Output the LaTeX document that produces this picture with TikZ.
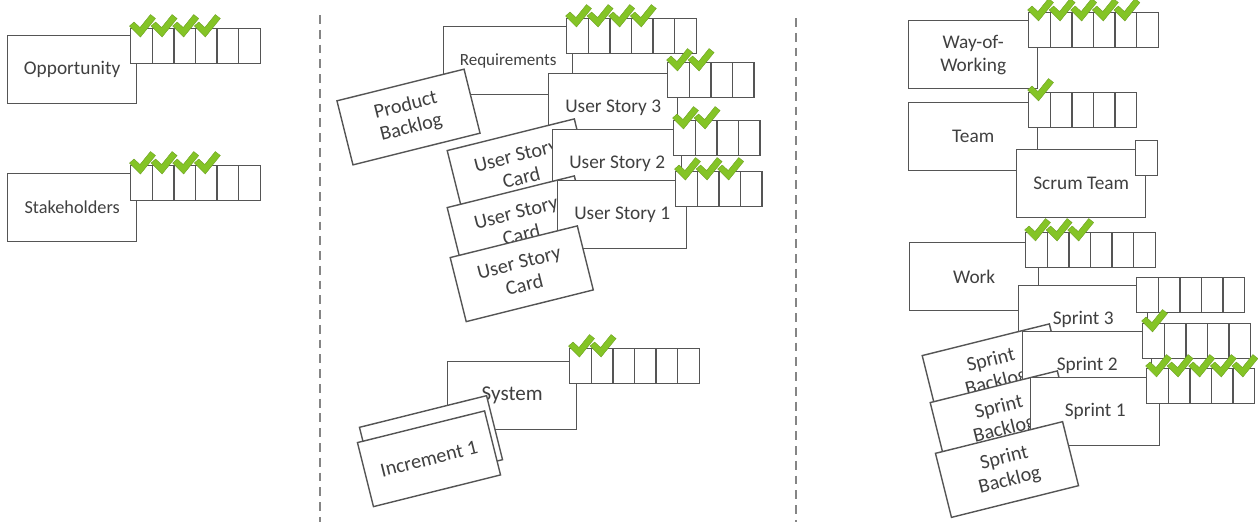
\documentclass[tikz,border=0pt]{standalone}
\usepackage{fontspec}
\setmainfont{Carlito}
\usepackage{xcolor}
\usepackage{tikz}
\definecolor{linegray}{HTML}{555555}
\definecolor{textgray}{HTML}{404040}
\definecolor{sepgray}{HTML}{858585}
\definecolor{tickgreen}{RGB}{132,196,38}

% row of checklist cells: name, x, y, cells, ticked cells
\newcommand{\checkbar}[5]{%
  \foreach \i in {1,...,#4}
    \node[cell] (#1-\i) at ({#2+(\i-1)*21.6},#3) {};
  \ifnum#5>0
    \foreach \j in {1,...,#5}
      \pic at (#1-\j.north west) {tick};
  \fi}

\begin{document}
\begin{tikzpicture}[x=0.02cm, y=-0.02cm,
    box/.style={rectangle, draw=linegray, line width=0.8pt, fill=white,
      minimum width=2.58cm, minimum height=1.36cm, inner sep=0pt,
      align=center, text=textgray, font=\fontsize{11}{13}\selectfont},
    card/.style={box, minimum width=2.62cm, minimum height=1.32cm,
      rotate=14, font=\fontsize{11.5}{13}\selectfont},
    cell/.style={rectangle, draw=linegray, line width=0.8pt, fill=white,
      minimum width=0.432cm, minimum height=0.69cm, inner sep=0pt,
      anchor=north west},
    sep/.style={draw=sepgray, line width=1.1pt, dash pattern=on 5pt off 3.4pt},
    tick/.pic={\fill[tickgreen, draw=tickgreen!80!black, line width=0.2pt]
      (-0.5,-2) -- (4,-6) -- (10,-0.5) -- (20.5,-13.5) -- (25.5,-9.5) -- (10.5,9) -- cycle;}]
  \useasboundingbox (0,0) rectangle (1258,522);

  % separators
  \coordinate (sepa-top) at (320,15);
  \coordinate (sepa-bot) at (320,522);
  \coordinate (sepb-top) at (796,18);
  \coordinate (sepb-bot) at (796,522);
  \draw[sep] (sepa-top) -- (sepa-bot);
  \draw[sep] (sepb-top) -- (sepb-bot);

  % customer
  \node[box, anchor=north west] (opp) at (7,35) {Opportunity};
  \checkbar{oppbar}{130}{28}{6}{4}
  \node[box, anchor=north west, font=\fontsize{10.4}{12}\selectfont] (stk) at (7,173) {Stakeholders};
  \checkbar{stkbar}{130}{165}{6}{4}

  % solution
  \node[box, anchor=north west, font=\fontsize{9.7}{11}\selectfont] (req) at (443,26) {Requirements};
  \checkbar{reqbar}{566}{18}{6}{4}
  \node[card] (pb) at (408.5,117) {Product\\Backlog};
  \node[box, anchor=north west] (us3) at (548,73) {User Story 3};
  \checkbar{us3bar}{667}{62}{4}{2}
  \node[card] (usc1) at (518.75,166.75) {User Story\\Card};
  \node[box, anchor=north west] (us2) at (552,129) {User Story 2};
  \checkbar{us2bar}{673}{120}{4}{2}
  \node[card] (usc2) at (518.75,223.75) {User Story\\Card};
  \node[box, anchor=north west] (us1) at (557,180) {User Story 1};
  \checkbar{us1bar}{675}{171}{4}{3}
  \node[card] (usc3) at (521.75,273.75) {User Story\\Card};

  \node[box, anchor=north west, font=\fontsize{12}{14}\selectfont] (sys) at (447,361) {System};
  \checkbar{sysbar}{569}{348}{6}{2}
  \node[card] (incb) at (431,443.5) {};
  \node[card] (inc) at (429,458.75) {Increment 1};

  % endeavor
  \node[box, anchor=north west] (wow) at (908,20) {Way-of-\\Working};
  \checkbar{wowbar}{1028}{12}{6}{5}
  \node[box, anchor=north west] (team) at (908,102) {Team};
  \checkbar{teambar}{1028}{92}{5}{1}
  \node[box, anchor=north west] (scrum) at (1016,149) {Scrum Team};
  \checkbar{scrumbar}{1135}{140}{1}{0}

  \node[box, anchor=north west] (work) at (909,242) {Work};
  \checkbar{workbar}{1025}{232}{6}{3}
  \node[box, anchor=north west] (sp3) at (1018,285) {Sprint 3};
  \checkbar{sp3bar}{1136}{277}{5}{0}
  \node[card] (sb1) at (993.75,371.75) {Sprint\\Backlog};
  \node[box, anchor=north west] (sp2) at (1022,331) {Sprint 2};
  \checkbar{sp2bar}{1142}{323}{5}{1}
  \node[card] (sb2) at (1001.75,418.75) {Sprint\\Backlog};
  \node[box, anchor=north west] (sp1) at (1030,377) {Sprint 1};
  \checkbar{sp1bar}{1146}{368}{5}{5}
  \node[card] (sb3) at (1007,469.5) {Sprint\\Backlog};
\end{tikzpicture}
\end{document}
